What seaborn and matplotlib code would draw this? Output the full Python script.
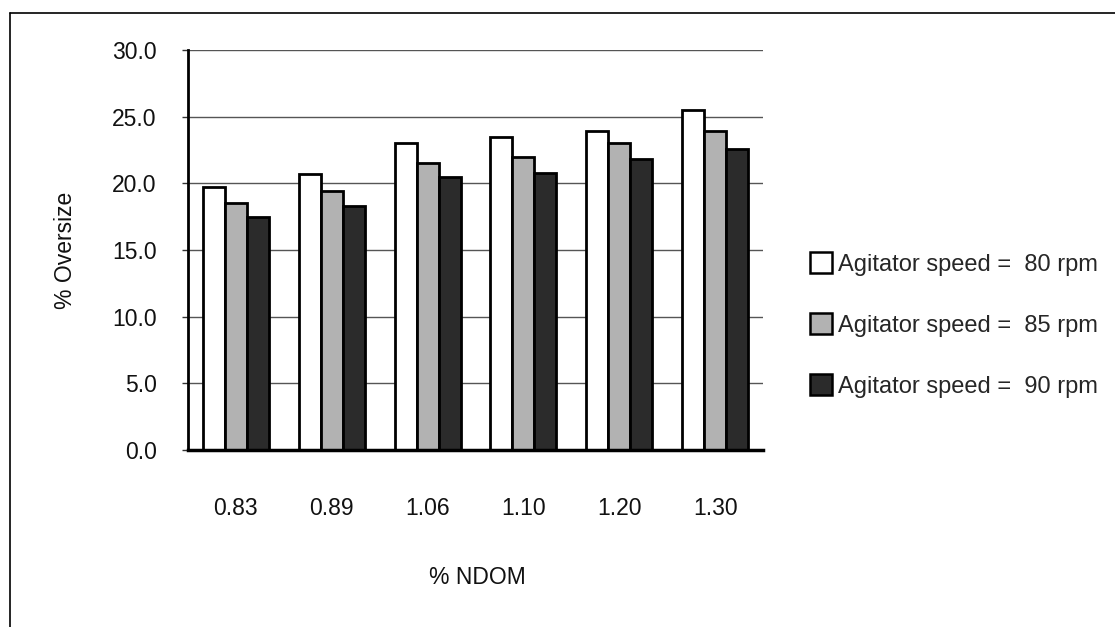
import matplotlib
matplotlib.use("Agg")
import matplotlib.pyplot as plt
from matplotlib.patches import Patch
from matplotlib.lines import Line2D
import seaborn as sns
import pandas as pd

# NDOM levels (x categories) and oversize percentages per agitator speed
ndom = ["0.83", "0.89", "1.06", "1.10", "1.20", "1.30"]
speed_80 = [19.7, 20.7, 23.0, 23.5, 23.9, 25.5]
speed_85 = [18.5, 19.4, 21.5, 22.0, 23.0, 23.9]
speed_90 = [17.5, 18.3, 20.5, 20.8, 21.8, 22.6]
series_labels = ["Agitator speed =  80 rpm",
                 "Agitator speed =  85 rpm",
                 "Agitator speed =  90 rpm"]
y_ticks = [0, 5, 10, 15, 20, 25, 30]

colors = ["#ffffff", "#b2b2b2", "#2b2b2b"]

df = pd.DataFrame({
    "NDOM": ndom * 3,
    "Oversize": speed_80 + speed_85 + speed_90,
    "Speed": [series_labels[0]] * 6 + [series_labels[1]] * 6 + [series_labels[2]] * 6,
})

sns.set_theme(style="white")
plt.rcParams["font.family"] = ["Liberation Sans", "DejaVu Sans"]

fig = plt.figure(figsize=(11.15, 6.27), dpi=100)
ax = fig.add_axes([188 / 1115, 1 - 450 / 627, 575 / 1115, 400 / 627])

sns.barplot(data=df, x="NDOM", y="Oversize", hue="Speed", order=ndom,
            hue_order=series_labels, palette=colors, width=0.69,
            edgecolor="black", linewidth=2.0, saturation=1, legend=False,
            ax=ax, zorder=3)

ax.set_ylim(0, 30)
ax.set_xlim(-0.5, 5.5)
ax.set_yticks(y_ticks)
ax.set_yticklabels([f"{v:.1f}" for v in y_ticks])

# horizontal gridlines behind the bars
ax.yaxis.grid(True, color="#555555", linewidth=1.0, zorder=0)
ax.set_axisbelow(True)

for side in ["top", "right"]:
    ax.spines[side].set_visible(False)
ax.spines["left"].set_color("black")
ax.spines["left"].set_linewidth(2.0)
ax.spines["bottom"].set_color("black")
ax.spines["bottom"].set_linewidth(2.5)
ax.spines["left"].set_zorder(4)
ax.spines["bottom"].set_zorder(4)

ax.tick_params(axis="y", which="both", left=True, direction="out", length=4.5,
               width=1.0, color="#333333", pad=18, labelsize=16.5, labelcolor="#111111")
ax.tick_params(axis="x", which="both", bottom=False, length=0, pad=34,
               labelsize=16.5, labelcolor="#111111")

ax.set_xlabel("% NDOM", fontsize=16.5, color="#111111")
ax.xaxis.label.set_va("center")
ax.xaxis.set_label_coords((477 - 188) / 575, -(577 - 450) / 400)
ax.set_ylabel("% Oversize", fontsize=16.5, color="#111111")
ax.yaxis.label.set_va("center")
ax.yaxis.set_label_coords((65 - 188) / 575, 0.5)

handles = [Patch(facecolor=c, edgecolor="black", linewidth=1.8) for c in colors]
ax.legend(handles, series_labels, loc="center left",
          bbox_to_anchor=((810 - 188) / 575, (450 - 325) / 400),
          frameon=False, fontsize=17, handlelength=0.95, handleheight=0.95,
          handletextpad=0.25, labelspacing=1.6, borderaxespad=0, borderpad=0)

# outer frame lines along the top and left edges
fig.add_artist(Line2D([10 / 1115, 10 / 1115], [0, 1 - 13 / 627],
                      transform=fig.transFigure, color="black", linewidth=1.2))
fig.add_artist(Line2D([10 / 1115, 1], [1 - 13 / 627, 1 - 13 / 627],
                      transform=fig.transFigure, color="black", linewidth=1.2))

fig.savefig("out.png", dpi=100)
